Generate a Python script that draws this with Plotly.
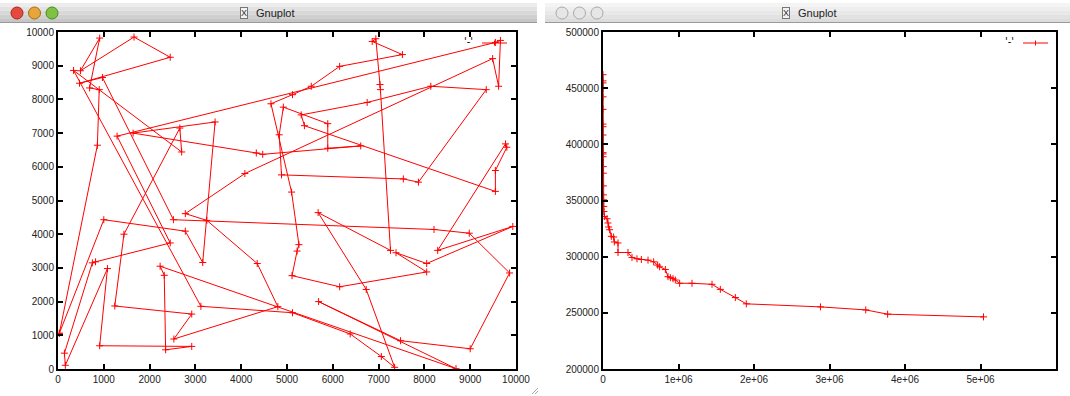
import plotly.graph_objects as go

# ---------------- data ----------------
# Left: city coordinates in tour order (closed tour)
tour_x = [30, 860, 900, 690, 910, 490, 1660, 2450, 470, 970,
          2520, 8210, 8980, 9860, 9000, 7480, 5690, 8690, 2230, 2320,
          2350, 2920, 910, 1080, 160, 140, 750, 820, 2450, 1290,
          9550, 9660, 9620, 9490, 4080, 2780, 3250, 4350, 4800, 2530,
          2920, 1240, 1440, 2660, 2700, 340, 3120, 5120, 6380, 7060,
          7350, 6730, 5680, 7260, 7040, 7030, 6940, 6860, 7520, 6150,
          5530, 5120, 4650, 5100, 5260, 5220, 5110, 6150, 8050, 7380,
          8050, 9930, 8290, 9770, 9800, 9550, 9550, 5380, 5310, 6750,
          8140, 9350, 7870, 7540, 4880, 4830, 4920, 5890, 5890, 6610,
          4470, 4330, 1640, 3430, 3160, 2780, 1000, 30]
tour_y = [1060, 6640, 8290, 8340, 9820, 8850, 9850, 9250, 8480, 8650,
          4430, 4140, 4030, 2850, 600, 840, 2000, 10, 3050, 2780,
          570, 670, 690, 2980, 110, 470, 3150, 3180, 3740, 6910,
          9690, 9750, 8390, 9210, 5800, 4610, 4410, 3130, 1850, 890,
          1630, 1870, 4000, 7150, 6440, 8860, 1860, 1670, 1040, 370,
          50, 2360, 4640, 3520, 8290, 8440, 9800, 9720, 9330, 8980,
          8390, 8140, 7870, 5250, 3690, 3500, 2770, 2440, 2880, 3450,
          3130, 4230, 3520, 6680, 6580, 5890, 5270, 7220, 7540, 7910,
          8390, 8290, 5545, 5640, 5760, 6950, 7770, 7280, 6550, 6620,
          6370, 6410, 7000, 7330, 3160, 4090, 4430, 1060]

# Right: tour length vs. evaluations
eval_x = [0, 0, 0, 0, 0, 0, 0, 0, 0, 0, 0, 0, 3000, 4000, 5000, 6000, 8000, 10000, 12000, 18000,
          53000, 66000, 75000, 88000, 110000, 141000, 150000, 199000, 199000, 331000, 384000,
          450000, 508000, 596000, 671000, 724000, 750000, 826000, 861000, 892000, 927000, 958000,
          1015000, 1179000, 1444000, 1554000, 1753000, 1898000, 2880000, 3480000, 3770000, 5040000]
length_y = [462000, 456500, 454700, 449700, 442300, 431100, 418000, 415700, 408300, 392600, 391400,
            389000, 380200, 374300, 363000, 355000, 350600, 344700, 340200, 335800,
            333800, 330000, 326400, 324000, 318100, 317500, 313100, 312200, 303700, 303700, 299300,
            298100, 297500, 296900, 295400, 292500, 291000, 288600, 282200, 281300, 280400, 279200,
            276300, 276300, 275400, 270900, 263600, 258000, 255300, 252600, 248800, 246400]

left_ticks = [0, 1000, 2000, 3000, 4000, 5000, 6000, 7000, 8000, 9000, 10000]
left_labels = ["0", "1000", "2000", "3000", "4000", "5000", "6000", "7000", "8000", "9000", "10000"]
right_xticks = [0, 1e6, 2e6, 3e6, 4e6, 5e6, 6e6]
right_xlabels = ["0", "1e+06", "2e+06", "3e+06", "4e+06", "5e+06", "6e+06"]
right_yticks = [200000, 250000, 300000, 350000, 400000, 450000, 500000]
right_ylabels = ["200000", "250000", "300000", "350000", "400000", "450000", "500000"]
legend_label = "'-'"
window_title = "Gnuplot"

# ---------------- layout helpers ----------------
W, H = 1070, 396
def px(x):
    return x / W
def py(y):
    return 1 - y / H

RED = "#ff0000"
FONT = "Liberation Sans"

fig = go.Figure()
marker_style = dict(symbol="cross-thin", size=5, line=dict(color=RED, width=1))
fig.add_trace(go.Scatter(x=tour_x, y=tour_y, mode="lines+markers", xaxis="x", yaxis="y",
                         line=dict(color=RED, width=1), marker=marker_style, showlegend=False))
fig.add_trace(go.Scatter(x=eval_x, y=length_y, mode="lines+markers", xaxis="x2", yaxis="y2",
                         line=dict(color=RED, width=1), marker=marker_style, showlegend=False))

axis_common = dict(showgrid=False, zeroline=False, showline=True, linecolor="black", linewidth=2,
                   ticks="inside", ticklen=5, tickwidth=1.5, tickcolor="black", mirror="allticks",
                   automargin=False,
                   tickfont=dict(family=FONT, size=10, color="#222"))

fig.update_layout(
    template="none",
    width=W, height=H, autosize=False,
    margin=dict(l=0, r=0, t=0, b=0, pad=0),
    paper_bgcolor="white", plot_bgcolor="white",
    xaxis=dict(domain=[px(58), px(516)], range=[0, 10000], tickvals=left_ticks, ticktext=left_labels,
               anchor="y", **axis_common),
    yaxis=dict(domain=[py(369), py(32)], range=[0, 10000], tickvals=left_ticks, ticktext=left_labels,
               anchor="x", **axis_common),
    xaxis2=dict(domain=[px(603), px(1056)], range=[0, 6e6], tickvals=right_xticks, ticktext=right_xlabels,
                anchor="y2", **axis_common),
    yaxis2=dict(domain=[py(369), py(32)], range=[200000, 500000], tickvals=right_yticks,
                ticktext=right_ylabels, anchor="x2", **axis_common),
)

shapes = []
annotations = []

def window_chrome(x0, x1, active, title_cx):
    if active:
        bands = ["#ececec", "#e2e2e2", "#d8d8d8", "#cfcfcf", "#c6c6c6"]
    else:
        bands = ["#f4f4f4", "#eeeeee", "#e8e8e8", "#e2e2e2", "#dcdcdc"]
    top, bot = 3, 22
    step = (bot - top) / len(bands)
    for i, c in enumerate(bands):
        shapes.append(dict(type="rect", xref="paper", yref="paper", x0=px(x0), x1=px(x1),
                           y0=py(top + (i + 1) * step), y1=py(top + i * step),
                           fillcolor=c, line=dict(width=0), layer="below"))
    shapes.append(dict(type="line", xref="paper", yref="paper", x0=px(x0), x1=px(x1),
                       y0=py(22.5), y1=py(22.5), line=dict(color="#9a9a9a", width=1)))
    if active:
        cols = [("#e5493f", "#a8261d"), ("#e7a53a", "#a86c12"), ("#7fc242", "#4a8a1f")]
    else:
        cols = [("#e6e6e6", "#a9a9a9")] * 3
    for i, (fc, lc) in enumerate(cols):
        cx = x0 + 17 + i * 17.5
        shapes.append(dict(type="circle", xref="paper", yref="paper", x0=px(cx - 6), x1=px(cx + 6),
                           y0=py(19), y1=py(7), fillcolor=fc, line=dict(color=lc, width=1)))
    annotations.append(dict(xref="paper", yref="paper", x=px(title_cx - 24), y=py(13), text="X",
                            showarrow=False, font=dict(family=FONT, size=9, color="#333"),
                            bgcolor="#f2f2f2", bordercolor="#777", borderwidth=1, borderpad=0,
                            xanchor="center", yanchor="middle"))
    annotations.append(dict(xref="paper", yref="paper", x=px(title_cx - 14), y=py(13), text=window_title,
                            showarrow=False, font=dict(family=FONT, size=11, color="#222"),
                            xanchor="left", yanchor="middle"))

window_chrome(0, 537, True, 268)
window_chrome(545, 1070, False, 810)

for d in (3, 6):
    shapes.append(dict(type="line", xref="paper", yref="paper", x0=px(538 - d), x1=px(538),
                       y0=py(394), y1=py(394 - d), line=dict(color="#aaaaaa", width=1)))

for lx, sx0 in ((468, 482), (1009, 1023)):
    annotations.append(dict(xref="paper", yref="paper", x=px(lx), y=py(41), text=legend_label,
                            showarrow=False, font=dict(family="DejaVu Sans", size=10, color="black"),
                            xanchor="center", yanchor="middle"))
    shapes.append(dict(type="line", xref="paper", yref="paper", x0=px(sx0), x1=px(sx0 + 25),
                       y0=py(43), y1=py(43), line=dict(color=RED, width=1)))
    shapes.append(dict(type="line", xref="paper", yref="paper", x0=px(sx0 + 12.5), x1=px(sx0 + 12.5),
                       y0=py(45.5), y1=py(40.5), line=dict(color=RED, width=1)))

fig.update_layout(shapes=shapes, annotations=annotations)

fig.write_html("out.html", config={"displayModeBar": False},
               post_script="document.body.style.margin='0';document.body.style.overflow='hidden';")
